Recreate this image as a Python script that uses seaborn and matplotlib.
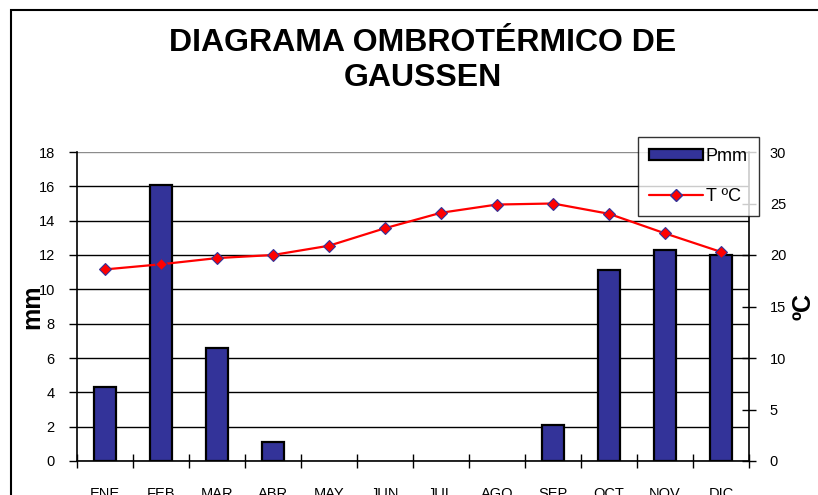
import matplotlib
matplotlib.use("Agg")
import matplotlib.pyplot as plt
import matplotlib.patches as mpatches
from matplotlib.lines import Line2D
import numpy as np
import pandas as pd
import seaborn as sns

MONTHS = ["ENE", "FEB", "MAR", "ABR", "MAY", "JUN",
          "JUL", "AGO", "SEP", "OCT", "NOV", "DIC"]
PRECIP = [4.3, 16.1, 6.6, 1.1, 0, 0, 0, 0, 2.1, 11.1, 12.3, 12.0]
TEMP = [18.6, 19.1, 19.7, 20.0, 20.9, 22.6, 24.1, 24.9, 25.0, 24.0, 22.1, 20.3]
MM_TICKS = list(range(0, 19, 2))
C_TICKS = list(range(0, 31, 5))

BAR = "#333399"
W, H = 818, 495

sns.set_theme(style="white")
plt.rcParams["font.family"] = ["Liberation Sans", "DejaVu Sans"]
plt.rcParams["axes.edgecolor"] = "black"
plt.rcParams["text.color"] = "black"
plt.rcParams["axes.labelcolor"] = "black"
plt.rcParams["xtick.color"] = "black"
plt.rcParams["ytick.color"] = "black"

df = pd.DataFrame({"mes": MONTHS, "pmm": PRECIP, "t": TEMP})

fig = plt.figure(figsize=(W / 100, H / 100), dpi=100)
fig.patch.set_facecolor("white")
ax = fig.add_axes([77 / W, 1 - 461 / H, (749 - 77) / W, (461 - 152) / H])

sns.barplot(data=df, x="mes", y="pmm", ax=ax, color=BAR, saturation=1,
            width=0.4, edgecolor="black", linewidth=1.6)
# months without rain: no visible bar outline
for p in ax.patches:
    if p.get_height() == 0:
        p.set_visible(False)
ax.set_ylim(0, 18)
ax.set_yticks(MM_TICKS)
ax.set_xlim(-0.5, 11.5)
ax.set_axisbelow(True)
ax.yaxis.grid(True, color="black", lw=1)
ax.yaxis.get_gridlines()[-1].set_color("#8c8c8c")
for s in ("top", "right"):
    ax.spines[s].set_visible(False)
for s in ("left", "bottom"):
    ax.spines[s].set_linewidth(1.2)
ax.tick_params(axis="y", direction="out", length=6, width=1, labelsize=10.5,
               pad=10, left=True)
ax.set_xticks(np.arange(-0.5, 12, 1), minor=True)
ax.tick_params(axis="x", which="major", length=0, labelsize=10.5, pad=19)
ax.tick_params(axis="x", which="minor", direction="inout", length=10,
               width=1, bottom=True)
ax.set_xlabel("")
ax.set_ylabel("mm", fontsize=18, fontweight="bold", labelpad=-4)

ax2 = ax.twinx()
sns.pointplot(data=df, x="mes", y="t", ax=ax2, color="red", markers="D",
              markersize=6.5, linewidth=1.6, markeredgecolor=BAR,
              markeredgewidth=0.8)
ax2.set_ylim(0, 30)
ax2.set_yticks(C_TICKS)
ax2.set_xlim(-0.5, 11.5)
for s in ("top", "left", "bottom"):
    ax2.spines[s].set_visible(False)
ax2.spines["right"].set_linewidth(1.2)
ax2.tick_params(axis="y", direction="inout", length=10, width=1,
                labelsize=10.5, pad=10, right=True)
ax2.set_ylabel("ºC", fontsize=18, fontweight="bold", rotation=90, labelpad=4)
ax2.set_xlabel("")

handles = [mpatches.Patch(facecolor=BAR, edgecolor="black", lw=1.6),
           Line2D([], [], color="red", lw=1.6, marker="D", markersize=6.5,
                  markerfacecolor="red", markeredgecolor=BAR)]
leg = fig.legend(handles, ["Pmm", "T ºC"], loc="upper left",
                 bbox_to_anchor=(638 / W, 1 - 137 / H), frameon=True,
                 fancybox=False, edgecolor="black", fontsize=13,
                 handlelength=3.0, handleheight=0.6, labelspacing=1.3,
                 borderpad=0.6, handletextpad=0.15, borderaxespad=0)
leg.get_frame().set_linewidth(1)

fig.text(423 / W, 1 - 43 / H, "DIAGRAMA OMBROTÉRMICO DE", ha="center",
         va="center", fontsize=23, fontweight="bold")
fig.text(423 / W, 1 - 78 / H, "GAUSSEN", ha="center", va="center",
         fontsize=23, fontweight="bold")

fig.patches.append(mpatches.Rectangle((11 / W, -0.1), 1.2, 1 - 10 / H + 0.1,
                                      transform=fig.transFigure, fill=False,
                                      edgecolor="black", lw=1.5))

fig.savefig("out.png", dpi=100)
